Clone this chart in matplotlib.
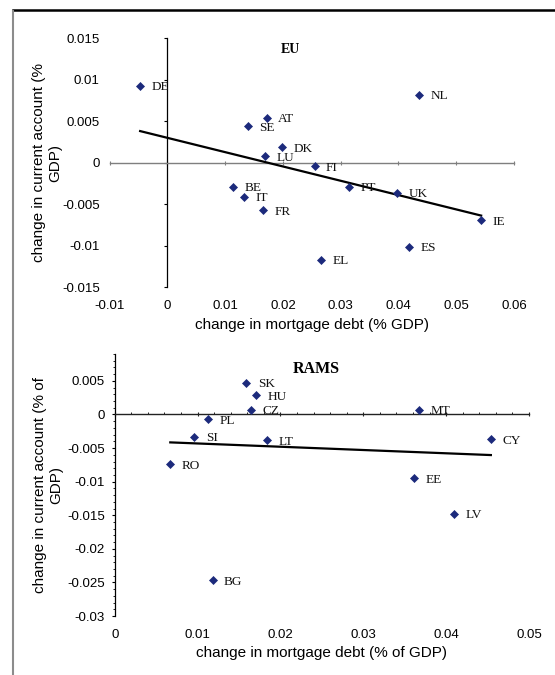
import numpy as np
import matplotlib
matplotlib.use("Agg")
import matplotlib.pyplot as plt
from matplotlib.lines import Line2D
from matplotlib.ticker import MultipleLocator

# EU panel
EU_CODES = ["DE", "NL", "AT", "SE", "DK", "LU", "FI", "BE", "IT", "FR",
            "PT", "UK", "IE", "ES", "EL"]
EU_DEBT = [-0.0047, 0.0435, 0.0172, 0.0140, 0.0198, 0.0169, 0.0255, 0.0114,
           0.0133, 0.0166, 0.0315, 0.0398, 0.0543, 0.0418, 0.0266]
EU_CA = [0.0093, 0.0082, 0.0054, 0.0044, 0.0019, 0.0008, -0.0004, -0.0029,
         -0.0041, -0.0057, -0.0029, -0.0036, -0.0069, -0.0101, -0.0117]
EU_XTICKS = [-0.01, 0.0, 0.01, 0.02, 0.03, 0.04, 0.05, 0.06]
EU_XLABELS = ["-0.01", "0", "0.01", "0.02", "0.03", "0.04", "0.05", "0.06"]
EU_YTICKS = [0.015, 0.01, 0.005, 0.0, -0.005, -0.01, -0.015]
EU_YLABELS = ["0.015", "0.01", "0.005", "0", "-0.005", "-0.01", "-0.015"]

# RAMS panel
RAMS_CODES = ["SK", "HU", "CZ", "MT", "PL", "SI", "LT", "CY", "RO", "EE",
              "LV", "BG"]
RAMS_DEBT = [0.0159, 0.0171, 0.0164, 0.0367, 0.0113, 0.0096, 0.0184, 0.0454,
             0.0067, 0.0361, 0.0410, 0.0118]
RAMS_CA = [0.0047, 0.0029, 0.0007, 0.0007, -0.0007, -0.0033, -0.0038,
           -0.0037, -0.0074, -0.0095, -0.0148, -0.0247]
RAMS_XTICKS = [0.0, 0.01, 0.02, 0.03, 0.04, 0.05]
RAMS_XLABELS = ["0", "0.01", "0.02", "0.03", "0.04", "0.05"]
RAMS_YTICKS = [0.005, 0.0, -0.005, -0.01, -0.015, -0.02, -0.025, -0.03]
RAMS_YLABELS = ["0.005", "0", "-0.005", "-0.01", "-0.015", "-0.02",
                "-0.025", "-0.03"]

MARKER = "#1c2a7c"
SANS = "Liberation Sans"
SERIF = "Liberation Serif"


def panel(ax, codes, xs, ys, title, title_pos, title_size,
          xticks, xlabels, yticks, ylabels, xlabel, ylabel, label_pos,
          xaxis_color, minor=False):
    ax.set_xlim(xticks[0], xticks[-1])
    ax.set_ylim(min(yticks), max(yticks) if not minor else 0.009)
    ax.patch.set_visible(False)
    for side in ("top", "right"):
        ax.spines[side].set_visible(False)
    ax.spines["left"].set_position(("data", 0))
    ax.spines["bottom"].set_position(("data", 0))
    ax.spines["left"].set_color("black")
    ax.spines["left"].set_linewidth(0.9)
    ax.spines["bottom"].set_color(xaxis_color)
    ax.spines["bottom"].set_linewidth(1.0)
    ax.set_xticks(xticks)
    ax.set_yticks(yticks)
    ax.tick_params(labelleft=False, labelbottom=False)
    ax.tick_params(axis="y", direction="out", length=2.2, width=0.8)
    ax.tick_params(axis="x", direction="inout", length=3.5, width=0.8,
                   color=xaxis_color)
    if minor:
        ax.yaxis.set_minor_locator(MultipleLocator(0.001))
        ax.xaxis.set_minor_locator(MultipleLocator(0.002))
        ax.tick_params(axis="y", which="minor", direction="out", length=1.3,
                       width=0.6)
        ax.tick_params(axis="x", which="minor", direction="in", length=1.5,
                       width=0.6)

    # tick labels sit on the frame edges, away from the crossing axes
    sx = ax.secondary_xaxis("bottom")
    sx.set_xticks(xticks, xlabels)
    sy = ax.secondary_yaxis("left")
    sy.set_yticks(yticks, ylabels)
    for sec in (sx, sy):
        for sp in sec.spines.values():
            sp.set_visible(False)
    sx.tick_params(length=0, pad=9, labelsize=9.5)
    sy.tick_params(length=0, pad=7, labelsize=9.5)
    for lab in sx.get_xticklabels() + sy.get_yticklabels():
        lab.set_fontfamily(SANS)

    ax.plot(xs, ys, linestyle="none", marker="D", markersize=3.7,
            color=MARKER, markeredgewidth=0.5, zorder=4)
    for code, x, y in zip(codes, xs, ys):
        ax.annotate(code, (x, y), xytext=(8.2, 0), textcoords="offset points",
                    ha="left", va="center_baseline", fontsize=9.5,
                    fontfamily=SERIF, color="#111111", zorder=5)

    coef = np.polyfit(xs, ys, 1)
    line_x = np.array([min(xs), max(xs)])
    ax.plot(line_x, np.polyval(coef, line_x), color="black", lw=1.6, zorder=3)

    ax.text(title_pos[0], title_pos[1], title, transform=ax.transAxes,
            ha="center", va="center", fontsize=title_size, fontweight="bold",
            fontfamily=SERIF)
    ax.text(0.5, label_pos[0], xlabel, transform=ax.transAxes, ha="center",
            va="center", fontsize=11, fontfamily=SANS)
    ax.text(label_pos[1], 0.5, ylabel, transform=ax.transAxes, ha="center",
            va="center", rotation=90, fontsize=11, fontfamily=SANS,
            linespacing=1.2)


fig = plt.figure(figsize=(5.55, 6.75), dpi=100)

ax1 = fig.add_axes([0.1973, 0.5744, 0.729, 0.3689])
panel(ax1, EU_CODES, EU_DEBT, EU_CA, "EU", (0.448, 0.953), 10,
      EU_XTICKS, EU_XLABELS, EU_YTICKS, EU_YLABELS,
      "change in mortgage debt (% GDP)",
      "change in current account (%\nGDP)", (-0.153, -0.153), "#7f7f7f")

ax2 = fig.add_axes([0.2068, 0.0874, 0.7463, 0.3881])
panel(ax2, RAMS_CODES, RAMS_DEBT, RAMS_CA, "RAMS", (0.4865, 0.943), 11.5,
      RAMS_XTICKS, RAMS_XLABELS, RAMS_YTICKS, RAMS_YLABELS,
      "change in mortgage debt (% of GDP)",
      "change in current account (% of\nGDP)", (-0.143, -0.162), "#222222",
      minor=True)

# page frame from the source document
fig.add_artist(Line2D([13 / 555, 1.0], [1 - 9.5 / 675] * 2,
                      transform=fig.transFigure, color="black", lw=1.8))
fig.add_artist(Line2D([13 / 555] * 2, [0.0, 1 - 10.5 / 675],
                      transform=fig.transFigure, color="#8c8c8c", lw=1.5))

fig.savefig("out.png", dpi=100, facecolor="white")
